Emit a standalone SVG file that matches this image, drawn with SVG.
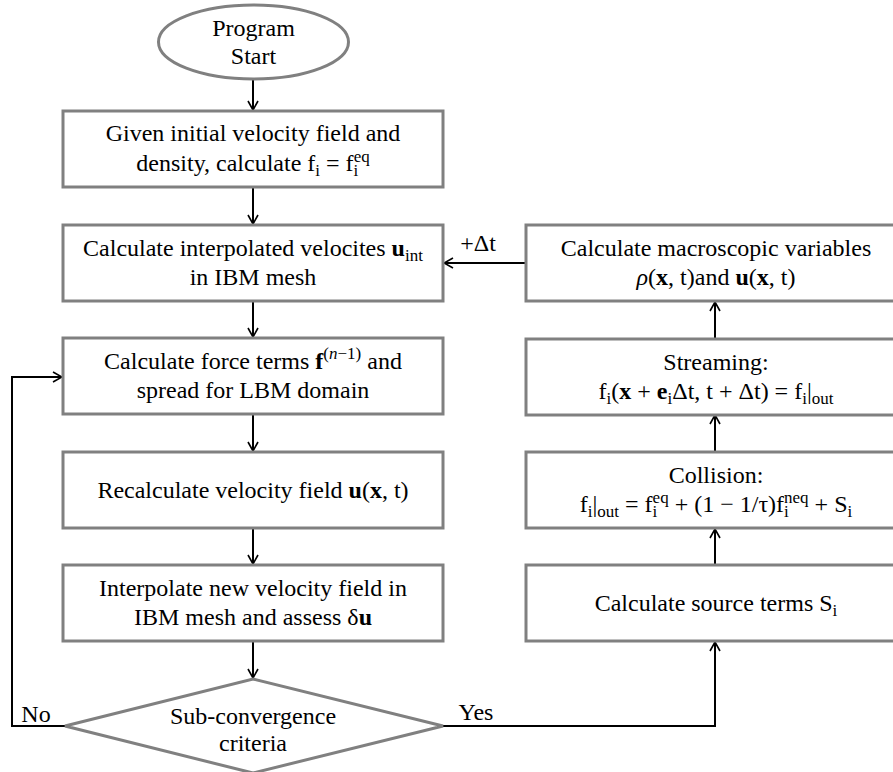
<svg xmlns="http://www.w3.org/2000/svg" width="893" height="772" viewBox="0 0 893 772">
<defs>
<style>
.box{fill:#fff;stroke:#808080;stroke-width:3}
.t{font-family:"Liberation Serif","Times New Roman",serif;font-size:24px;fill:#000;text-anchor:middle}
.b{font-weight:bold}
.i{font-style:italic}
.s{font-size:17px}
.conn{fill:none;stroke:#000;stroke-width:2}
</style>
<marker id="arr" viewBox="0 0 12 12" refX="11" refY="6" markerWidth="12" markerHeight="12" markerUnits="userSpaceOnUse" orient="auto">
<path d="M2,1 L11,6 L2,11" fill="none" stroke="#000" stroke-width="1.6"/>
</marker>
</defs>
<rect width="893" height="772" fill="#fff"/>

<g id="connectors">
<line class="conn" x1="253" y1="79" x2="253" y2="110" marker-end="url(#arr)"/>
<line class="conn" x1="253" y1="187" x2="253" y2="224" marker-end="url(#arr)"/>
<line class="conn" x1="253" y1="301" x2="253" y2="337" marker-end="url(#arr)"/>
<line class="conn" x1="253" y1="414" x2="253" y2="451" marker-end="url(#arr)"/>
<line class="conn" x1="253" y1="528" x2="253" y2="564" marker-end="url(#arr)"/>
<line class="conn" x1="253" y1="641" x2="253" y2="678" marker-end="url(#arr)"/>
<polyline class="conn" points="65,726 12,726 12,377 62,377" marker-end="url(#arr)"/>
<polyline class="conn" points="443,726 715,726 715,642" marker-end="url(#arr)"/>
<line class="conn" x1="715" y1="565" x2="715" y2="529" marker-end="url(#arr)"/>
<line class="conn" x1="715" y1="452" x2="715" y2="415" marker-end="url(#arr)"/>
<line class="conn" x1="715" y1="339" x2="715" y2="302" marker-end="url(#arr)"/>
<line class="conn" x1="526" y1="263" x2="444" y2="263" marker-end="url(#arr)"/>
<text class="t" x="478" y="251">+Δt</text>
<text class="t" x="36" y="722">No</text>
<text class="t" x="476" y="720">Yes</text>
</g>

<g id="start">
<ellipse class="box" cx="253.5" cy="42" rx="95" ry="37"/>
<text class="t" x="253.5" y="36">Program</text>
<text class="t" x="253.5" y="64">Start</text>
</g>

<g id="init">
<rect class="box" x="63" y="111" width="380" height="76"/>
<text class="t" x="253" y="141">Given initial velocity field and</text>
<text class="t" x="253" y="171">density, calculate f<tspan class="s" dy="5">i</tspan><tspan dy="-5"> = f</tspan><tspan class="s" dy="5">i</tspan><tspan class="s" dx="-4.7" dy="-14">eq</tspan></text>
</g>

<g id="interp">
<rect class="box" x="63" y="225" width="380" height="76"/>
<text class="t" x="253" y="256">Calculate interpolated velocites <tspan class="b">u</tspan><tspan class="s" dy="5">int</tspan></text>
<text class="t" x="253" y="285">in IBM mesh</text>
</g>

<g id="force">
<rect class="box" x="63" y="338" width="380" height="76"/>
<text class="t" x="253" y="369">Calculate force terms <tspan class="b">f</tspan><tspan class="s" dy="-10">(<tspan class="i">n</tspan>−1)</tspan><tspan dy="10"> and</tspan></text>
<text class="t" x="253" y="398">spread for LBM domain</text>
</g>

<g id="recalc">
<rect class="box" x="63" y="452" width="380" height="76"/>
<text class="t" x="253" y="498">Recalculate velocity field <tspan class="b">u</tspan>(<tspan class="b">x</tspan>, t)</text>
</g>

<g id="interpnew">
<rect class="box" x="63" y="565" width="380" height="76"/>
<text class="t" x="253" y="596">Interpolate new velocity field in</text>
<text class="t" x="253" y="625">IBM mesh and assess δ<tspan class="b">u</tspan></text>
</g>

<g id="decision">
<polygon class="box" points="253,679 443,726 253,773 65,726"/>
<text class="t" x="253" y="724">Sub-convergence</text>
<text class="t" x="253" y="751">criteria</text>
</g>

<g id="macro">
<rect class="box" x="526" y="225" width="384" height="76"/>
<text class="t" x="716" y="256">Calculate macroscopic variables</text>
<text class="t" x="716" y="285"><tspan class="i">ρ</tspan>(<tspan class="b">x</tspan>, t)and <tspan class="b">u</tspan>(<tspan class="b">x</tspan>, t)</text>
</g>

<g id="stream">
<rect class="box" x="526" y="339" width="384" height="76"/>
<text class="t" x="716" y="370">Streaming:</text>
<text class="t" x="716" y="399">f<tspan class="s" dy="5">i</tspan><tspan dy="-5">(</tspan><tspan class="b">x</tspan> + <tspan class="b">e</tspan><tspan class="s" dy="5">i</tspan><tspan dy="-5">Δt, t + Δt) = f</tspan><tspan class="s" dy="5">i</tspan><tspan dy="-5">|</tspan><tspan class="s" dy="5">out</tspan></text>
</g>

<g id="collision">
<rect class="box" x="526" y="452" width="384" height="76"/>
<text class="t" x="716" y="483">Collision:</text>
<text class="t" x="716" y="512">f<tspan class="s" dy="5">i</tspan><tspan dy="-5">|</tspan><tspan class="s" dy="5">out</tspan><tspan dy="-5"> = f</tspan><tspan class="s" dy="5">i</tspan><tspan class="s" dx="-4.7" dy="-14">eq</tspan><tspan dy="9"> + (1 − 1/τ)f</tspan><tspan class="s" dy="5">i</tspan><tspan class="s" dx="-4.7" dy="-14">neq</tspan><tspan dy="9"> + S</tspan><tspan class="s" dy="5">i</tspan></text>
</g>

<g id="source">
<rect class="box" x="526" y="565" width="384" height="76"/>
<text class="t" x="716" y="611">Calculate source terms S<tspan class="s" dy="5">i</tspan></text>
</g>
</svg>
